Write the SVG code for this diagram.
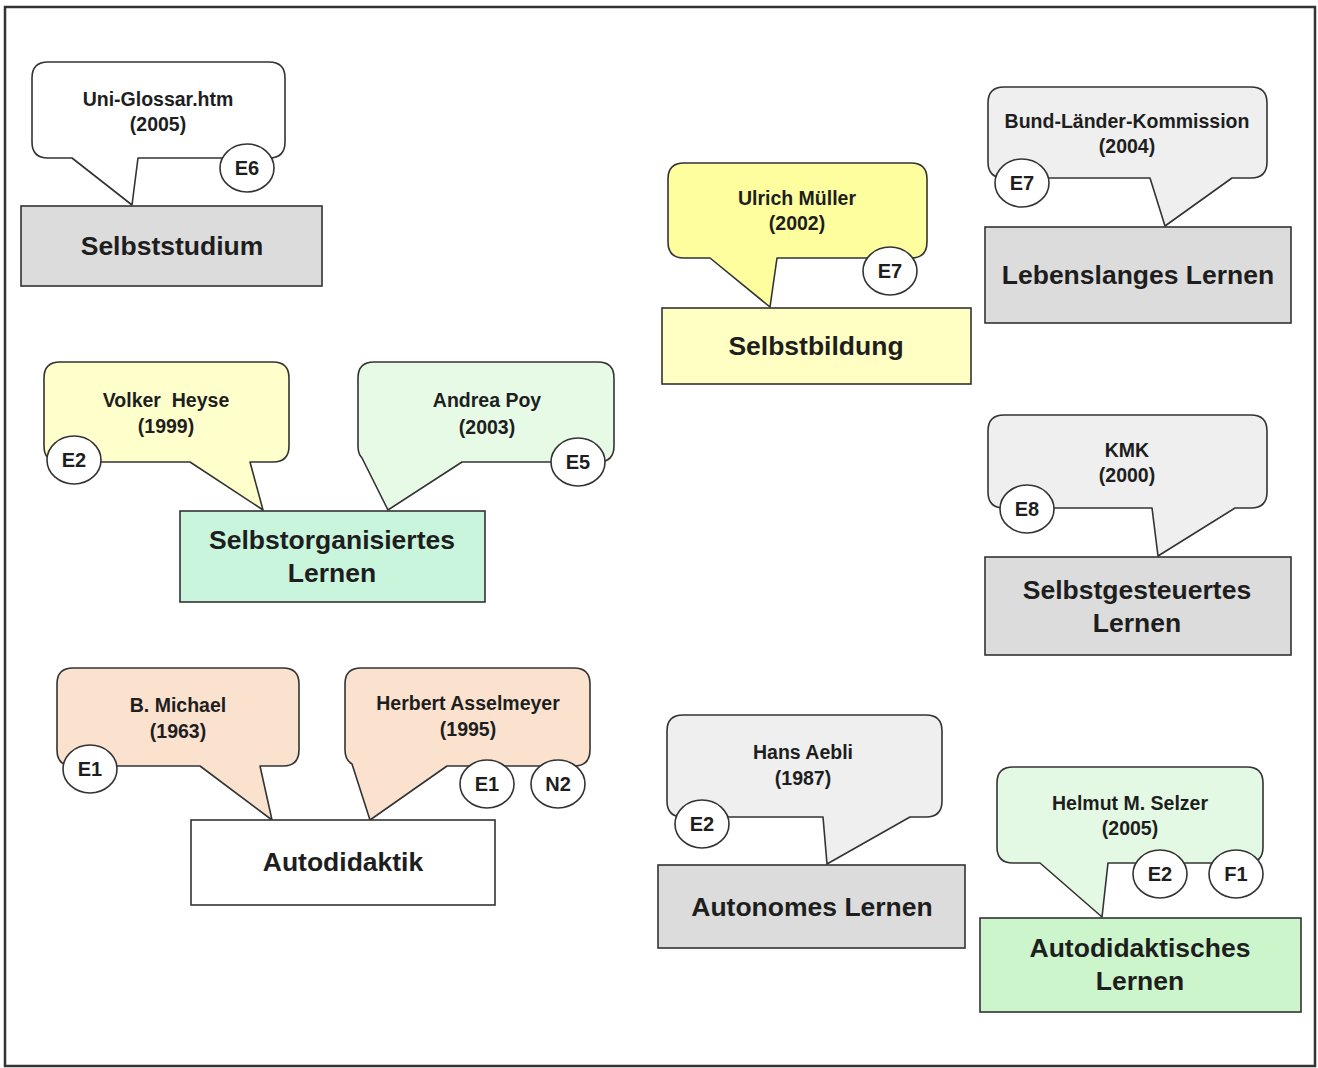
<svg xmlns="http://www.w3.org/2000/svg" width="1318" height="1068" viewBox="0 0 1318 1068">
<style>
  .frame{fill:#fff;stroke:#333;stroke-width:2.5}
  .box{stroke:#333;stroke-width:1.6}
  .call{stroke:#333;stroke-width:1.6;stroke-linejoin:round}
  .tag{fill:#fff;stroke:#333;stroke-width:1.6}
  .bt{font-family:"Liberation Sans",Arial,sans-serif;font-weight:bold;font-size:26.5px;fill:#1e1e1e;text-anchor:middle}
  .ct{font-family:"Liberation Sans",Arial,sans-serif;font-weight:bold;font-size:19.5px;fill:#1e1e1e;text-anchor:middle}
  .tt{font-family:"Liberation Sans",Arial,sans-serif;font-weight:bold;font-size:20px;fill:#1e1e1e;text-anchor:middle}
  .gray{fill:#dcdcdc}
  .cgray{fill:#efefef}
</style>
<rect class="frame" x="5" y="7" width="1310" height="1059"/>

<g id="selbststudium">
  <path class="call" fill="#ffffff" d="M48,62 H269 Q285,62 285,78 V142 Q285,158 269,158 H138 L132,205 L72,158 H48 Q32,158 32,142 V78 Q32,62 48,62 Z"/>
  <text class="ct" x="158" y="106">Uni-Glossar.htm</text>
  <text class="ct" x="158" y="131">(2005)</text>
  <ellipse class="tag" cx="247" cy="168" rx="27" ry="24"/>
  <text class="tt" x="247" y="175">E6</text>
  <rect class="box gray" x="21" y="206" width="301" height="80"/>
  <text class="bt" x="172" y="255">Selbststudium</text>
</g>

<g id="selbstbildung">
  <path class="call" fill="#fefe9e" d="M684,163 H911 Q927,163 927,179 V242 Q927,258 911,258 H777 L770,307 L710,258 H684 Q668,258 668,242 V179 Q668,163 684,163 Z"/>
  <text class="ct" x="797" y="205">Ulrich Müller</text>
  <text class="ct" x="797" y="230">(2002)</text>
  <ellipse class="tag" cx="890" cy="271" rx="27" ry="24"/>
  <text class="tt" x="890" y="278">E7</text>
  <rect class="box" fill="#ffffc4" x="662" y="308" width="309" height="76"/>
  <text class="bt" x="816" y="355">Selbstbildung</text>
</g>

<g id="lebenslanges-lernen">
  <path class="call cgray" d="M1004,87 H1251 Q1267,87 1267,103 V162 Q1267,178 1251,178 H1232 L1165,226 L1150,178 H1004 Q988,178 988,162 V103 Q988,87 1004,87 Z"/>
  <text class="ct" x="1127" y="128">Bund-Länder-Kommission</text>
  <text class="ct" x="1127" y="153">(2004)</text>
  <ellipse class="tag" cx="1022" cy="183" rx="27" ry="24"/>
  <text class="tt" x="1022" y="190">E7</text>
  <rect class="box gray" x="985" y="227" width="306" height="96"/>
  <text class="bt" x="1138" y="284">Lebenslanges Lernen</text>
</g>

<g id="selbstorganisiertes-lernen">
  <path class="call" fill="#ffffcc" d="M60,362 H273 Q289,362 289,378 V446 Q289,462 273,462 H250 L263,510 L190,462 H60 Q44,462 44,446 V378 Q44,362 60,362 Z"/>
  <text class="ct" x="166" y="407" xml:space="preserve">Volker  Heyse</text>
  <text class="ct" x="166" y="433">(1999)</text>
  <ellipse class="tag" cx="74" cy="460" rx="27" ry="24"/>
  <text class="tt" x="74" y="467">E2</text>
  <path class="call" fill="#e6fae6" d="M374,362 H598 Q614,362 614,378 V446 Q614,462 598,462 H462 L388,510 L362,458 Q358,454 358,446 V378 Q358,362 374,362 Z"/>
  <text class="ct" x="487" y="407">Andrea Poy</text>
  <text class="ct" x="487" y="434">(2003)</text>
  <ellipse class="tag" cx="578" cy="462" rx="27" ry="24"/>
  <text class="tt" x="578" y="469">E5</text>
  <rect class="box" fill="#c9f5dd" x="180" y="511" width="305" height="91"/>
  <text class="bt" x="332" y="549">Selbstorganisiertes</text>
  <text class="bt" x="332" y="582">Lernen</text>
</g>

<g id="selbstgesteuertes-lernen">
  <path class="call cgray" d="M1004,415 H1251 Q1267,415 1267,431 V492 Q1267,508 1251,508 H1235 L1158,556 L1152,508 H1004 Q988,508 988,492 V431 Q988,415 1004,415 Z"/>
  <text class="ct" x="1127" y="457">KMK</text>
  <text class="ct" x="1127" y="482">(2000)</text>
  <ellipse class="tag" cx="1027" cy="509" rx="27" ry="24"/>
  <text class="tt" x="1027" y="516">E8</text>
  <rect class="box gray" x="985" y="557" width="306" height="98"/>
  <text class="bt" x="1137" y="599">Selbstgesteuertes</text>
  <text class="bt" x="1137" y="632">Lernen</text>
</g>

<g id="autodidaktik">
  <path class="call" fill="#fbe2cf" d="M73,668 H283 Q299,668 299,684 V750 Q299,766 283,766 H260 L272,820 L200,766 H73 Q57,766 57,750 V684 Q57,668 73,668 Z"/>
  <text class="ct" x="178" y="712">B. Michael</text>
  <text class="ct" x="178" y="738">(1963)</text>
  <ellipse class="tag" cx="90" cy="769" rx="27" ry="24"/>
  <text class="tt" x="90" y="776">E1</text>
  <path class="call" fill="#fbe2cf" d="M361,668 H574 Q590,668 590,684 V750 Q590,766 574,766 H447 L370,820 L352,764 Q345,760 345,750 V684 Q345,668 361,668 Z"/>
  <text class="ct" x="468" y="710">Herbert Asselmeyer</text>
  <text class="ct" x="468" y="736">(1995)</text>
  <ellipse class="tag" cx="487" cy="784" rx="27" ry="24"/>
  <text class="tt" x="487" y="791">E1</text>
  <ellipse class="tag" cx="558" cy="784" rx="27" ry="24"/>
  <text class="tt" x="558" y="791">N2</text>
  <rect class="box" fill="#ffffff" x="191" y="820" width="304" height="85"/>
  <text class="bt" x="343" y="871">Autodidaktik</text>
</g>

<g id="autonomes-lernen">
  <path class="call cgray" d="M683,715 H926 Q942,715 942,731 V801 Q942,817 926,817 H910 L827,864 L823,817 H683 Q667,817 667,801 V731 Q667,715 683,715 Z"/>
  <text class="ct" x="803" y="759">Hans Aebli</text>
  <text class="ct" x="803" y="785">(1987)</text>
  <ellipse class="tag" cx="702" cy="824" rx="27" ry="24"/>
  <text class="tt" x="702" y="831">E2</text>
  <rect class="box gray" x="658" y="865" width="307" height="83"/>
  <text class="bt" x="812" y="916">Autonomes Lernen</text>
</g>

<g id="autodidaktisches-lernen">
  <path class="call" fill="#e3f9e3" d="M1013,767 H1247 Q1263,767 1263,783 V847 Q1263,863 1247,863 H1108 L1102,917 L1040,863 H1013 Q997,863 997,847 V783 Q997,767 1013,767 Z"/>
  <text class="ct" x="1130" y="810">Helmut M. Selzer</text>
  <text class="ct" x="1130" y="835">(2005)</text>
  <ellipse class="tag" cx="1160" cy="874" rx="27" ry="24"/>
  <text class="tt" x="1160" y="881">E2</text>
  <ellipse class="tag" cx="1236" cy="874" rx="27" ry="24"/>
  <text class="tt" x="1236" y="881">F1</text>
  <rect class="box" fill="#ccf5cc" x="980" y="918" width="321" height="94"/>
  <text class="bt" x="1140" y="957">Autodidaktisches</text>
  <text class="bt" x="1140" y="990">Lernen</text>
</g>
</svg>
